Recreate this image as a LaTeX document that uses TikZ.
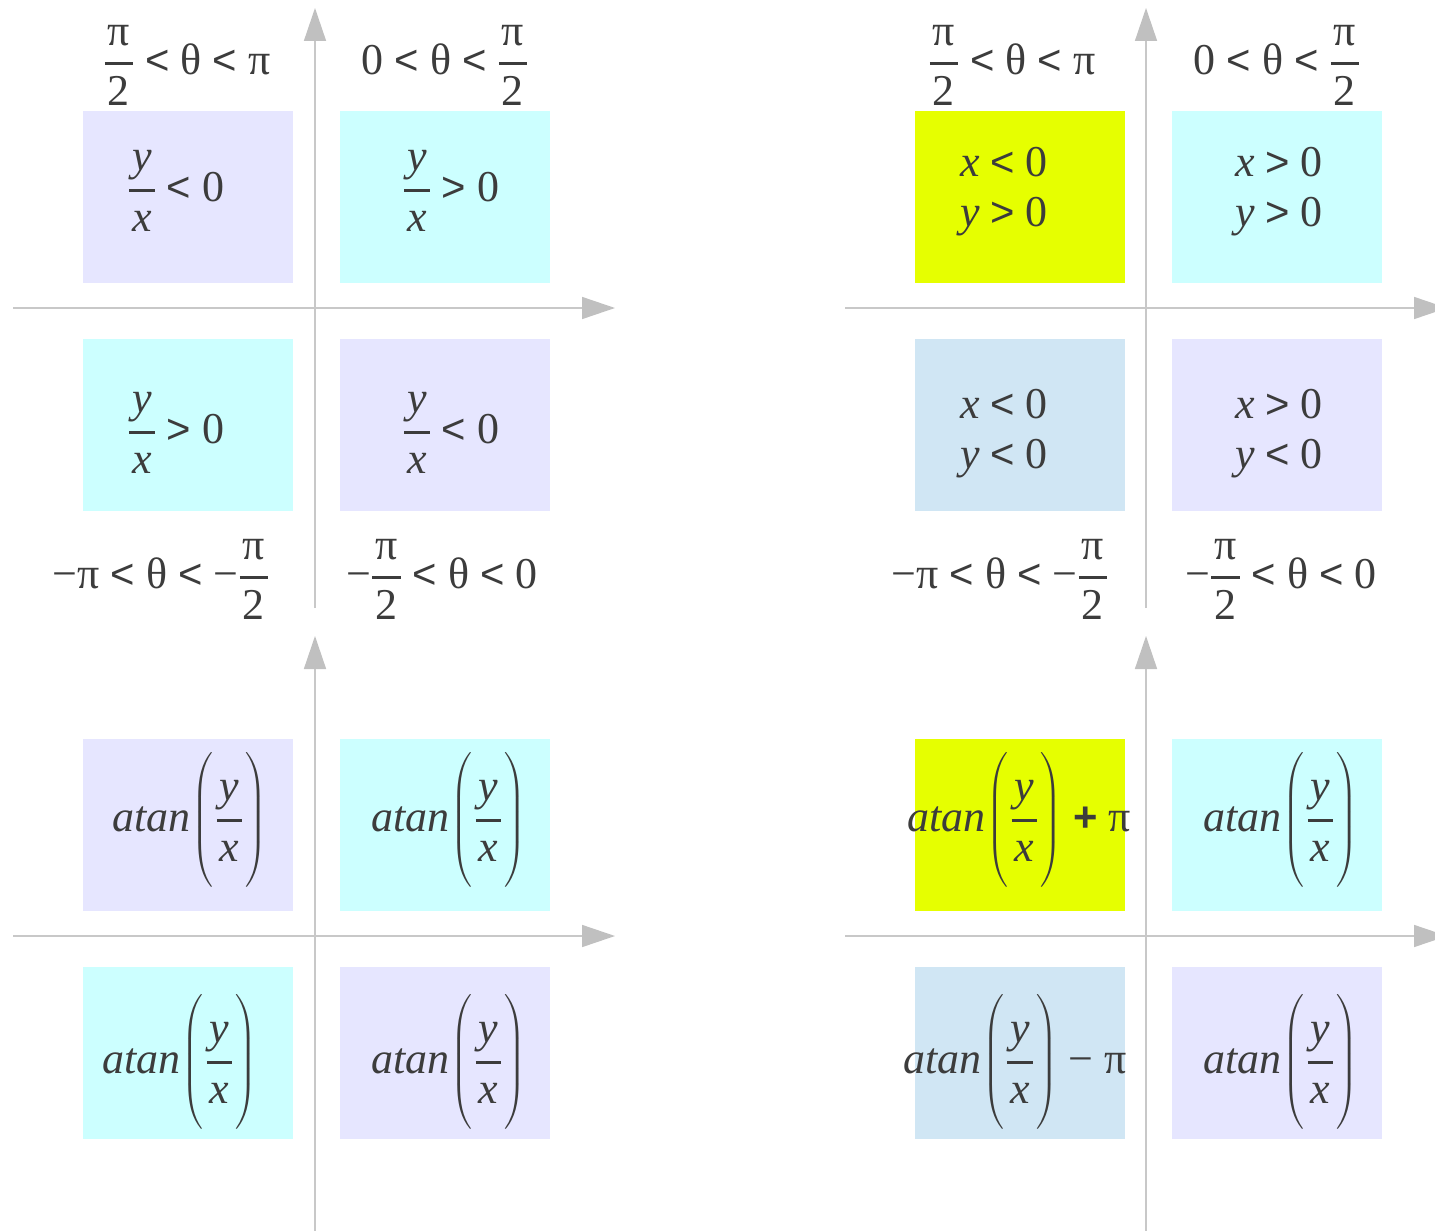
\RequirePackage{fix-cm}
\documentclass[tikz,border=0pt]{standalone}
\usepackage{amsmath}
\usepackage{fontspec}
\setmainfont{Liberation Serif}
\newfontfamily\opf{Liberation Sans}[Scale=0.95]
\usetikzlibrary{arrows.meta}
\definecolor{lav}{HTML}{E6E6FF}
\definecolor{cya}{HTML}{CCFFFF}
\definecolor{yel}{HTML}{E6FF00}
\definecolor{lbl}{HTML}{D0E6F4}
\definecolor{txt}{HTML}{3C3C3C}
\definecolor{axc}{HTML}{C8C8C8}
\definecolor{axh}{HTML}{C0C0C0}
\newcommand{\fr}[2]{\ensuremath{\displaystyle{\text{\kern3pt#1\kern3pt}\above 3pt\text{\kern3pt#2\kern3pt}}}}
\newcommand{\iv}[1]{\textit{#1}}
\newcommand{\lt}{{\opf <}}
\newcommand{\gt}{{\opf >}}
\newcommand{\pl}{{\opf\bfseries +}}
\newcommand{\at}{\iv{atan}\ensuremath{\kern1pt\Biggl(\kern2pt\fr{\iv{y}}{\iv{x}}\kern2pt\Biggr)}}
\tikzset{
  quad/.style={minimum width=210pt,minimum height=172pt,inner sep=0pt,draw=none},
  lbl/.style={text=txt,inner sep=0pt,font=\fontsize{44}{50}\selectfont,align=left},
  axis/.style={draw=axc,line width=1.5pt,-{Triangle[length=33pt,width=22pt,fill=axh,color=axh]}}
}
\begin{document}
\begin{tikzpicture}[x=1pt,y=-1pt]
\clip (0,0) rectangle (1435,1231);
\fill[white] (0,0) rectangle (1435,1231);

% ---------- top-left panel ----------
\node[quad,fill=lav] (a1) at (188,197) {};
\node[quad,fill=cya] (a2) at (445,197) {};
\node[quad,fill=cya] (a3) at (188,424.5) {};
\node[quad,fill=lav] (a4) at (445,424.5) {};
\coordinate (ah0) at (13,308); \coordinate (ah1) at (615,308);
\coordinate (av0) at (315,608); \coordinate (av1) at (315,8);
\draw[axis] (ah0) -- (ah1);
\draw[axis] (av0) -- (av1);
\node[lbl] (ta1) at (176,191) {\fr{\iv{y}}{\iv{x}} \lt{} 0};
\node[lbl] (ta2) at (451,191) {\fr{\iv{y}}{\iv{x}} \gt{} 0};
\node[lbl] (ta3) at (176,433) {\fr{\iv{y}}{\iv{x}} \gt{} 0};
\node[lbl] (ta4) at (451,433) {\fr{\iv{y}}{\iv{x}} \lt{} 0};
\node[lbl] (qa1) at (187,65) {\fr{π}{2} \lt{} θ \lt{} π};
\node[lbl] (qa2) at (445,65) {0 \lt{} θ \lt{} \fr{π}{2}};
\node[lbl] (qa3) at (161,579) {−π \lt{} θ \lt{} −\fr{π}{2}};
\node[lbl] (qa4) at (442,579) {−\fr{π}{2} \lt{} θ \lt{} 0};

% ---------- top-right panel ----------
\node[quad,fill=yel] (b1) at (1020,197) {};
\node[quad,fill=cya] (b2) at (1277,197) {};
\node[quad,fill=lbl] (b3) at (1020,424.5) {};
\node[quad,fill=lav] (b4) at (1277,424.5) {};
\coordinate (bh0) at (845,308); \coordinate (bh1) at (1447,308);
\coordinate (bv0) at (1146,608); \coordinate (bv1) at (1146,8);
\draw[axis] (bh0) -- (bh1);
\draw[axis] (bv0) -- (bv1);
\node[lbl] (tb1) at (1004,192) {\iv{x} \lt{} 0\\\iv{y} \gt{} 0};
\node[lbl] (tb2) at (1279,192) {\iv{x} \gt{} 0\\\iv{y} \gt{} 0};
\node[lbl] (tb3) at (1004,434) {\iv{x} \lt{} 0\\\iv{y} \lt{} 0};
\node[lbl] (tb4) at (1279,434) {\iv{x} \gt{} 0\\\iv{y} \lt{} 0};
\node[lbl] (qb1) at (1012,65) {\fr{π}{2} \lt{} θ \lt{} π};
\node[lbl] (qb2) at (1277,65) {0 \lt{} θ \lt{} \fr{π}{2}};
\node[lbl] (qb3) at (1000,579) {−π \lt{} θ \lt{} −\fr{π}{2}};
\node[lbl] (qb4) at (1281,579) {−\fr{π}{2} \lt{} θ \lt{} 0};

% ---------- bottom-left panel ----------
\node[quad,fill=lav] (c1) at (188,825) {};
\node[quad,fill=cya] (c2) at (445,825) {};
\node[quad,fill=cya] (c3) at (188,1052.5) {};
\node[quad,fill=lav] (c4) at (445,1052.5) {};
\coordinate (ch0) at (13,936); \coordinate (ch1) at (615,936);
\coordinate (cv0) at (315,1240); \coordinate (cv1) at (315,636);
\draw[axis] (ch0) -- (ch1);
\draw[axis] (cv0) -- (cv1);
\node[lbl] (tc1) at (190,820) {\at};
\node[lbl] (tc2) at (449,820) {\at};
\node[lbl] (tc3) at (180,1062) {\at};
\node[lbl] (tc4) at (449,1062) {\at};

% ---------- bottom-right panel ----------
\node[quad,fill=yel] (d1) at (1020,825) {};
\node[quad,fill=cya] (d2) at (1277,825) {};
\node[quad,fill=lbl] (d3) at (1020,1052.5) {};
\node[quad,fill=lav] (d4) at (1277,1052.5) {};
\coordinate (dh0) at (845,936); \coordinate (dh1) at (1447,936);
\coordinate (dv0) at (1146,1240); \coordinate (dv1) at (1146,636);
\draw[axis] (dh0) -- (dh1);
\draw[axis] (dv0) -- (dv1);
\node[lbl] (td1) at (1019,820) {\at{} \pl{} π};
\node[lbl] (td2) at (1281,820) {\at};
\node[lbl] (td3) at (1015,1062) {\at{} − π};
\node[lbl] (td4) at (1281,1062) {\at};
\end{tikzpicture}
\end{document}
